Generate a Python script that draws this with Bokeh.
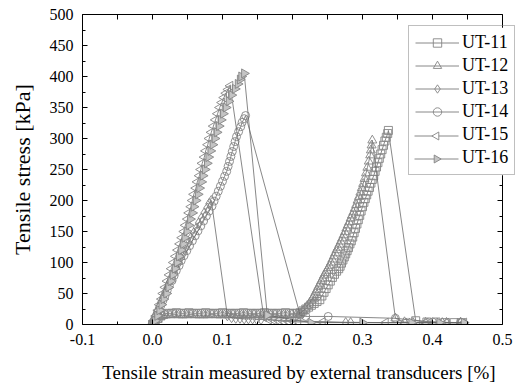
from bokeh.plotting import figure
from bokeh.models import (Range1d, FixedTicker, PrintfTickFormatter, LinearAxis, Legend, LegendItem)
from bokeh.embed import file_html
from bokeh.resources import INLINE

# ---------------- data (strain %, stress kPa) ----------------
ut11_x = [0.000, 0.004, 0.008, 0.012, 0.016, 0.022, 0.028, 0.034, 0.040, 0.046, 0.052, 0.058, 0.064, 0.070,
          0.076, 0.082, 0.088, 0.094, 0.100, 0.106, 0.112, 0.118, 0.124, 0.130, 0.136, 0.142, 0.148, 0.154,
          0.160, 0.166, 0.172, 0.178, 0.184, 0.190, 0.196, 0.202, 0.207,
          0.211, 0.215, 0.219, 0.223, 0.227, 0.231, 0.235, 0.239, 0.242, 0.245, 0.248, 0.251, 0.254, 0.257,
          0.260, 0.263, 0.266, 0.268, 0.270, 0.272, 0.274, 0.276, 0.278, 0.280, 0.282, 0.284, 0.286, 0.288,
          0.290, 0.292, 0.294, 0.296, 0.298, 0.300, 0.302, 0.304, 0.306, 0.308, 0.310, 0.312, 0.314, 0.316,
          0.318, 0.320, 0.322, 0.324, 0.326, 0.328, 0.330, 0.332, 0.334, 0.336, 0.337,
          0.376, 0.392, 0.405, 0.418, 0.431, 0.441]
ut11_y = [0, 5, 10, 14, 17, 18, 18, 19, 18, 18, 19, 18, 18, 18,
          19, 18, 18, 18, 19, 18, 18, 18, 18, 19, 18, 18, 18, 18,
          19, 18, 18, 18, 18, 19, 18, 18, 18,
          19, 22, 25, 28, 31, 34, 37, 40, 46, 52, 58, 64, 70, 76,
          81, 86, 90, 94, 99, 104, 109, 114, 119, 124, 130, 135, 141, 148,
          155, 162, 169, 176, 183, 190, 197, 203, 209, 215, 221, 228, 234, 240,
          247, 254, 261, 268, 275, 282, 289, 296, 302, 308, 313,
          6, 4, 4, 3, 3, 3]

ut12_x = [0.000, 0.003, 0.007, 0.011, 0.015, 0.019, 0.025, 0.031, 0.037, 0.043, 0.049, 0.055, 0.061, 0.067,
          0.073, 0.079, 0.085, 0.091, 0.097, 0.103, 0.109, 0.115, 0.121, 0.127, 0.133, 0.139, 0.145, 0.151,
          0.157, 0.163, 0.169, 0.175, 0.181, 0.187, 0.193, 0.199, 0.205,
          0.209, 0.212, 0.215, 0.218, 0.221, 0.224, 0.227, 0.229, 0.231, 0.233, 0.235, 0.237, 0.239, 0.241,
          0.243, 0.245, 0.247, 0.249, 0.251, 0.253, 0.255, 0.257, 0.259, 0.261, 0.263, 0.265, 0.267, 0.269,
          0.271, 0.273, 0.275, 0.277, 0.279, 0.281, 0.283, 0.285, 0.287, 0.289, 0.291, 0.293, 0.295, 0.297,
          0.299, 0.301, 0.303, 0.305, 0.307, 0.309, 0.311, 0.312, 0.313, 0.314,
          0.347, 0.360, 0.372, 0.390, 0.420, 0.440]
ut12_y = [0, 4, 8, 12, 14, 15, 15, 16, 15, 15, 15, 16, 15, 15,
          15, 15, 16, 15, 15, 15, 15, 16, 15, 15, 15, 15, 16, 15,
          15, 15, 15, 16, 15, 15, 15, 16, 15,
          16, 19, 22, 26, 30, 34, 39, 43, 47, 52, 56, 61, 65, 70,
          74, 79, 83, 87, 91, 95, 100, 105, 110, 115, 120, 124, 129, 134,
          139, 144, 149, 155, 160, 165, 171, 176, 181, 187, 193, 200, 206, 213,
          220, 227, 235, 244, 253, 263, 273, 281, 289, 297,
          10, 4, 3, 3, 3, 3]

ut13_x = [-0.002, 0.000, 0.003, 0.006, 0.009, 0.012, 0.015, 0.018, 0.021, 0.024, 0.028, 0.031, 0.034, 0.038,
          0.041, 0.045, 0.048, 0.052, 0.055, 0.059, 0.063, 0.066, 0.070, 0.074, 0.078, 0.081, 0.084,
          0.107, 0.113, 0.119, 0.125, 0.131, 0.137, 0.143, 0.149, 0.155,
          0.276, 0.283, 0.414, 0.440]
ut13_y = [0, 6, 13, 20, 28, 36, 44, 52, 60, 68, 76, 84, 92, 100,
          108, 116, 124, 132, 140, 148, 156, 164, 172, 180, 188, 195, 200,
          14, 11, 10, 10, 9, 9, 9, 8, 8,
          3, 3, 3, 3]

ut14_x = [0.000, 0.003, 0.006, 0.009, 0.012, 0.015, 0.018, 0.021, 0.024, 0.028, 0.031, 0.034, 0.038, 0.041,
          0.045, 0.049, 0.053, 0.057, 0.061, 0.065, 0.069, 0.073, 0.077, 0.081, 0.085, 0.088, 0.091, 0.094,
          0.097, 0.100, 0.103, 0.106, 0.108, 0.110, 0.112, 0.114, 0.116, 0.118, 0.120, 0.123, 0.126, 0.128,
          0.131, 0.133,
          0.211, 0.219, 0.251, 0.347, 0.400, 0.440]
ut14_y = [0, 7, 15, 23, 31, 39, 47, 55, 63, 71, 79, 87, 95, 103,
          111, 119, 127, 135, 143, 151, 159, 167, 175, 183, 191, 199, 207, 215,
          223, 231, 239, 247, 255, 263, 271, 279, 287, 295, 303, 311, 319, 326,
          332, 337,
          15, 13, 13, 10, 4, 3]

ut15_x = [0.000, 0.002, 0.005, 0.008, 0.010, 0.013, 0.015, 0.018, 0.021, 0.024, 0.027, 0.030, 0.033, 0.036,
          0.039, 0.042, 0.045, 0.047, 0.050, 0.052, 0.055, 0.057, 0.059, 0.062, 0.064, 0.067, 0.069, 0.071,
          0.074, 0.076, 0.079, 0.081, 0.084, 0.087, 0.090, 0.093, 0.096, 0.099, 0.102, 0.105, 0.108, 0.111,
          0.159, 0.166, 0.173, 0.180, 0.187, 0.194, 0.201, 0.208, 0.243, 0.333, 0.360, 0.390, 0.420, 0.445]
ut15_y = [0, 6, 14, 23, 32, 41, 50, 60, 70, 80, 90, 100, 110, 120,
          130, 140, 150, 160, 170, 180, 190, 200, 210, 220, 230, 240, 250, 260,
          270, 280, 290, 300, 310, 320, 330, 340, 350, 358, 366, 373, 379, 385,
          12, 8, 7, 6, 5, 5, 5, 4, 4, 3, 3, 3, 3, 3]

ut16_x = [0.002, 0.004, 0.007, 0.010, 0.013, 0.016, 0.020, 0.023, 0.026, 0.029, 0.032, 0.035, 0.038, 0.041,
          0.044, 0.046, 0.049, 0.052, 0.054, 0.057, 0.059, 0.062, 0.065, 0.067, 0.070, 0.072, 0.075, 0.078,
          0.080, 0.083, 0.086, 0.089, 0.092, 0.095, 0.098, 0.101, 0.105, 0.109, 0.113, 0.118, 0.122, 0.125,
          0.127, 0.131,
          0.164, 0.226, 0.300, 0.370, 0.410, 0.445]
ut16_y = [0, 6, 14, 23, 32, 41, 50, 60, 70, 80, 90, 100, 110, 120,
          130, 140, 150, 160, 170, 180, 190, 200, 210, 220, 230, 240, 250, 260,
          270, 280, 290, 300, 310, 320, 330, 340, 350, 360, 370, 380, 388, 395,
          400, 405,
          15, 3, 3, 3, 3, 3]

labels = ["UT-11", "UT-12", "UT-13", "UT-14", "UT-15", "UT-16"]
series_x = [ut11_x, ut12_x, ut13_x, ut14_x, ut15_x, ut16_x]
series_y = [ut11_y, ut12_y, ut13_y, ut14_y, ut15_y, ut16_y]
markers = ["square", "triangle", "diamond", "circle", "triangle", "triangle"]
angles = [0, 0, 0, 0, 1.5708, -1.5708]          # left / right pointing triangles
fills = [None, None, None, None, None, "#c4c4c4"]
sizes = [8, 9, 10, 8, 9, 9]

x_ticks = [-0.1, 0.0, 0.1, 0.2, 0.3, 0.4, 0.5]
x_minor = [-0.05, 0.05, 0.15, 0.25, 0.35, 0.45]
y_ticks = [0, 50, 100, 150, 200, 250, 300, 350, 400, 450, 500]
y_minor = [25, 75, 125, 175, 225, 275, 325, 375, 425, 475]

FONT = "Liberation Serif"
MARK = "#858585"
LINE = "#6a6a6a"

# geometry: frame spans x px 82..515, axis box ends at x=0.5 (px 502)
W, H = 515, 389
FL, FT, FB = 82, 14, 65
X0, X1 = -0.1, 0.5
Y0, Y1 = 0, 500
PX_PER_UNIT = 700.0
x_end = X1 + (W - FL - (X1 - X0) * PX_PER_UNIT) / PX_PER_UNIT
frame_bottom = H - FB

def px_to_x(px):
    return X0 + (px - FL) / PX_PER_UNIT

def py_to_y(py):
    return (frame_bottom - py) / (frame_bottom - FT) * (Y1 - Y0)

# legend box geometry (screen px)
LEG_LEFT, LEG_TOP = 408, 27
PAD, GW, ROW, SP = 6, 44, 21, 2
leg_h = 2 * PAD + len(labels) * ROW + (len(labels) - 1) * SP
leg_lo = py_to_y(LEG_TOP + leg_h)   # legend box bottom, in data units
leg_hi = py_to_y(LEG_TOP)           # legend box top, in data units

p = figure(width=W, height=H, output_backend="svg", toolbar_location=None,
           x_range=Range1d(X0, x_end), y_range=Range1d(Y0, Y1),
           min_border_left=FL, min_border_right=0, min_border_top=FT, min_border_bottom=FB,
           x_axis_label="Tensile strain measured by external transducers [%]",
           y_axis_label="Tensile stress [kPa]")
p.grid.visible = False
p.outline_line_color = None
p.background_fill_color = "white"
p.border_fill_color = "white"

def base_style(ax):
    ax.axis_line_color = "black"
    ax.axis_line_width = 1
    ax.major_tick_in = 5
    ax.major_tick_out = 0
    ax.minor_tick_in = 3
    ax.minor_tick_out = 0
    ax.major_tick_line_color = "black"
    ax.minor_tick_line_color = "black"
    ax.major_label_text_font = FONT
    ax.axis_label_text_font = FONT
    ax.axis_label_text_font_style = "normal"
    ax.axis_label_text_color = "black"
    ax.major_label_text_color = "black"
    ax.major_label_text_font_size = "16px"

xa = p.xaxis[0]
base_style(xa)
xa.ticker = FixedTicker(ticks=x_ticks, minor_ticks=x_minor)
xa.formatter = PrintfTickFormatter(format="%.1f")
xa.bounds = (X0, X1)
xa.major_label_standoff = 9
xa.axis_label_text_font_size = "19px"
xa.axis_label_standoff = 14

ya = p.yaxis[0]
base_style(ya)
ya.ticker = FixedTicker(ticks=y_ticks, minor_ticks=y_minor)
ya.formatter = PrintfTickFormatter(format="%d")
ya.major_label_standoff = 9
ya.axis_label_text_font_size = "22px"
ya.axis_label_standoff = 12

# mirror axes (ticks only, no labels): ticks given as minor ticks so no label texts exist
top = LinearAxis(bounds=(X0, X1), ticker=FixedTicker(ticks=[], minor_ticks=x_ticks + x_minor))
base_style(top)
top.minor_tick_in = 5
top.major_label_standoff = 0
p.add_layout(top, "above")

# right frame side, interrupted where the legend box lies over it
for lo, hi in [(Y0, leg_lo), (leg_hi, Y1)]:
    for tks, ln_in in [(y_ticks, 5), (y_minor, 3)]:
        sel = [t for t in tks if lo <= t <= hi]
        ax = LinearAxis(fixed_location=X1, bounds=(lo, hi), ticker=FixedTicker(ticks=[], minor_ticks=sel))
        base_style(ax)
        ax.minor_tick_in = ln_in
        ax.major_label_standoff = 0
        p.add_layout(ax, "right")

items = []
for i, (lab, xs, ys, m, a, f, s) in enumerate(zip(labels, series_x, series_y, markers, angles, fills, sizes)):
    ln = p.line(xs, ys, line_color=LINE, line_width=0.8)
    sc = p.scatter(xs, ys, marker=m, size=s, angle=a, line_color=MARK, line_width=0.9, fill_color=f)
    if a == 0:
        items.append(LegendItem(label=lab, renderers=[ln, sc]))
    else:
        # Bokeh legends never rotate markers: draw this row's sample symbol under a transparent legend
        cy = py_to_y(LEG_TOP + PAD + i * (ROW + SP) + ROW / 2.0)
        gx0 = px_to_x(LEG_LEFT + PAD)
        gx1 = px_to_x(LEG_LEFT + PAD + GW)
        p.segment(x0=[gx0], y0=[cy], x1=[gx1], y1=[cy], line_color=LINE, line_width=0.8)
        p.scatter([(gx0 + gx1) / 2.0], [cy], marker=m, size=s - 1, angle=a,
                  line_color=MARK, line_width=0.9, fill_color=f if f else "white")
        dummy = p.line([], [], line_alpha=0)
        items.append(LegendItem(label=lab, renderers=[dummy]))

legend = Legend(items=items, location=(LEG_LEFT - FL, frame_bottom - (LEG_TOP + leg_h)),
                orientation="vertical",
                border_line_color="#808080", border_line_width=1,
                background_fill_color="white", background_fill_alpha=0.0,
                label_text_font=FONT, label_text_font_size="18px", label_text_color="black",
                glyph_width=GW, glyph_height=ROW, label_height=ROW, spacing=SP, padding=PAD, margin=0,
                label_standoff=3)
p.add_layout(legend, "center")

open("out.html", "w").write(file_html(p, INLINE))
